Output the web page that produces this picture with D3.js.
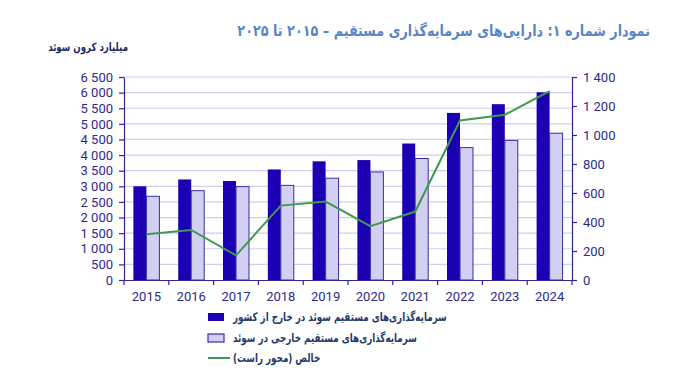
<!DOCTYPE html>
<html><head><meta charset="utf-8">
<script src="https://cdn.jsdelivr.net/npm/d3@7"></script>
<style>html,body{margin:0;padding:0;background:#fff;}svg{display:block;}</style>
</head><body>
<svg id="chart" width="676" height="381"></svg>
<script>
const years = ["2015","2016","2017","2018","2019","2020","2021","2022","2023","2024"];
const outward = [3000, 3220, 3170, 3540, 3800, 3840, 4370, 5350, 5630, 6010];
const inward  = [2680, 2860, 2990, 3030, 3260, 3460, 3890, 4240, 4470, 4700];
const net     = [315, 345, 170, 513, 541, 371, 472, 1100, 1140, 1303];
const leftTicks = d3.range(0, 6501, 500);
const rightTicks = d3.range(0, 1401, 200);
const titleText = "نمودار شماره ۱: دارایی‌های سرمایه‌گذاری مستقیم – ۲۰۱۵ تا ۲۰۲۵";
const yTitle = "میلیارد کرون سوئد";
const legendLabels = ["سرمایه‌گذاری‌های مستقیم سوئد در خارج از کشور",
                      "سرمایه‌گذاری‌های مستقیم خارجی در سوئد",
                      "خالص (محور راست)"];

const svg = d3.select("#chart");
const L = 124, R = 572, B = 280, T = 77;
const axisColor = "#2e2795";
const textColor = "#2e2a8c";
const darkFill = "#1c00b4", lightFill = "#d2cff2", lineColor = "#3f9a4e";
const arabicFont = "'DejaVu Sans', sans-serif";

const x = d3.scaleBand().domain(years).range([L, R]).paddingInner(0.42).paddingOuter(0.21);
const yL = d3.scaleLinear().domain([0, 6500]).range([B, T]);
const yR = d3.scaleLinear().domain([0, 1400]).range([B, T]);
const fmt = v => d3.format(",")(v).replace(/,/g, " ");

// horizontally condense text so its width matches target, anchored at ax
function squeeze(sel, target, ax) {
  const w = sel.node().getComputedTextLength();
  if (w > 0) {
    const s = target / w;
    sel.attr("transform", `translate(${ax},0) scale(${s.toFixed(4)},1) translate(${-ax},0)`);
  }
  return sel;
}

// grid
svg.append("g").selectAll("line").data(leftTicks.filter(d => d > 0)).join("line")
  .attr("x1", L).attr("x2", R).attr("y1", d => yL(d)).attr("y2", d => yL(d))
  .attr("stroke", "#cfcdf1").attr("stroke-width", 1.2);

// bars
const bw = x.bandwidth() / 2;
svg.append("g").selectAll("rect").data(years).join("rect")
  .attr("x", d => x(d)).attr("width", bw)
  .attr("y", (d, i) => yL(outward[i])).attr("height", (d, i) => B - yL(outward[i]))
  .attr("fill", darkFill);
svg.append("g").selectAll("rect").data(years).join("rect")
  .attr("x", d => x(d) + bw).attr("width", bw)
  .attr("y", (d, i) => yL(inward[i])).attr("height", (d, i) => B - yL(inward[i]))
  .attr("fill", lightFill).attr("stroke", "#3a2ea6").attr("stroke-width", 1);

// line
const line = d3.line().x((d, i) => x(years[i]) + bw).y(d => yR(d));
svg.append("path").datum(net).attr("d", line).attr("fill", "none")
  .attr("stroke", lineColor).attr("stroke-width", 2);

// axes
const styleAxis = g => {
  g.selectAll("path, line").attr("stroke", axisColor).attr("stroke-width", 1.2);
  g.selectAll("text").attr("fill", textColor).attr("font-family", "Roboto, sans-serif").attr("font-size", 13);
};
svg.append("g").attr("transform", `translate(${L},0)`)
  .call(d3.axisLeft(yL).tickValues(leftTicks).tickFormat(fmt).tickSize(5).tickSizeOuter(0).tickPadding(6))
  .call(styleAxis);
svg.append("g").attr("transform", `translate(${R},0)`)
  .call(d3.axisRight(yR).tickValues(rightTicks).tickFormat(fmt).tickSize(5).tickSizeOuter(0).tickPadding(6))
  .call(styleAxis);
svg.append("g").attr("transform", `translate(0,${B})`)
  .call(d3.axisBottom(x).tickSize(0).tickPadding(12))
  .call(styleAxis);
// boundary ticks
svg.append("g").selectAll("line").data(years.slice(1)).join("line")
  .attr("x1", d => x(d) - x.step() * 0.21).attr("x2", d => x(d) - x.step() * 0.21)
  .attr("y1", B).attr("y2", B + 5).attr("stroke", axisColor).attr("stroke-width", 1.2);
svg.append("line").attr("x1", L).attr("x2", L).attr("y1", B).attr("y2", B + 5).attr("stroke", axisColor).attr("stroke-width", 1.2);
svg.append("line").attr("x1", R).attr("x2", R).attr("y1", B).attr("y2", B + 5).attr("stroke", axisColor).attr("stroke-width", 1.2);

// title
const title = svg.append("text").attr("x", 650).attr("y", 36).attr("direction", "rtl").attr("text-anchor", "start")
  .attr("font-family", arabicFont).attr("font-weight", "bold").attr("font-size", 15.5)
  .attr("fill", "#5b86c6").text(titleText);
squeeze(title, 413, 650);
const yt = svg.append("text").attr("x", 128).attr("y", 51).attr("direction", "rtl").attr("text-anchor", "start")
  .attr("font-family", arabicFont).attr("font-weight", "bold").attr("font-size", 11.5)
  .attr("fill", "#1d2a60").text(yTitle);
squeeze(yt, 80, 128);

// legend
const lg = svg.append("g");
const rows = [317, 338, 358];
lg.append("rect").attr("x", 208).attr("y", rows[0] - 4).attr("width", 16).attr("height", 8).attr("fill", darkFill);
lg.append("rect").attr("x", 208).attr("y", rows[1] - 4).attr("width", 16).attr("height", 8)
  .attr("fill", lightFill).attr("stroke", "#3a2ea6").attr("stroke-width", 1.2);
lg.append("line").attr("x1", 208).attr("x2", 230).attr("y1", rows[2]).attr("y2", rows[2])
  .attr("stroke", lineColor).attr("stroke-width", 2);
const lt = lg.selectAll("text").data(legendLabels).join("text")
  .attr("x", 233).attr("y", (d, i) => rows[i] + 4).attr("direction", "rtl").attr("text-anchor", "end")
  .attr("font-family", arabicFont).attr("font-weight", "bold").attr("font-size", 12)
  .attr("fill", "#1f3b6c").text(d => d);
const w0 = lt.nodes()[0].getComputedTextLength();
const s0 = 214 / w0;
lt.attr("transform", `translate(233,0) scale(${s0.toFixed(4)},1) translate(-233,0)`);
</script>
</body></html>
